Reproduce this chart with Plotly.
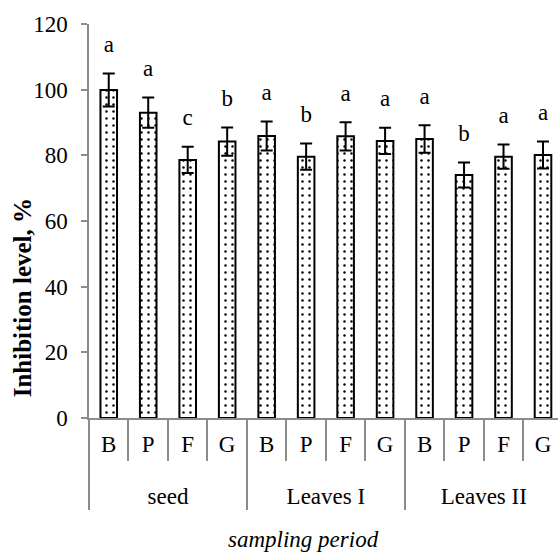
import plotly.graph_objects as go

group_names = ["seed", "Leaves I", "Leaves II"]
cat_names = ["B", "P", "F", "G"]
groups = [g for g in group_names for _ in cat_names]
cats = cat_names * 3
values = [99.9, 93.0, 78.6, 84.2, 85.9, 79.6, 85.8, 84.4, 85.0, 74.0, 79.6, 80.1]
errors = [5.0, 4.6, 4.0, 4.3, 4.4, 4.0, 4.3, 4.0, 4.2, 3.8, 3.7, 4.1]
letters = ["a", "a", "c", "b", "a", "b", "a", "a", "a", "b", "a", "a"]
y_ticks = [0, 20, 40, 60, 80, 100, 120]

FONT = "Liberation Serif"
GRAY = "#8c8c8c"
FS = 23
letter_gap = 8.3

# small blank line pushes the group level further down, as in the reference
group_labels = ["<span style='font-size:12px'> </span><br>" + g for g in groups]

fig = go.Figure()
fig.add_trace(go.Bar(
    x=[group_labels, cats], y=values,
    marker=dict(color="white", line=dict(color="black", width=2),
                pattern=dict(shape=".", size=7, solidity=0.1,
                             fgcolor="black", bgcolor="white", fillmode="replace")),
    error_y=dict(type="data", array=errors, visible=True, color="black",
                 thickness=2, width=6),
    width=0.42,
))
fig.add_trace(go.Scatter(
    x=[group_labels, cats], y=[v + e + letter_gap for v, e in zip(values, errors)],
    mode="text", text=letters, textposition="middle center",
    textfont=dict(family=FONT, size=FS, color="black"), hoverinfo="skip",
))

fig.update_layout(
    width=558, height=552, margin=dict(l=89, r=0, t=24, b=134),
    paper_bgcolor="white", plot_bgcolor="white", showlegend=False,
    font=dict(family=FONT, size=FS, color="black"),
)
fig.update_xaxes(
    type="multicategory", range=[-0.5, 11.38],
    showline=True, linecolor=GRAY, linewidth=1.5,
    ticks="outside", tickson="boundaries", ticklen=41, tickcolor=GRAY, tickwidth=1.5,
    showdividers=True, dividercolor=GRAY, dividerwidth=1.5,
    ticklabelstandoff=5,
    tickfont=dict(family=FONT, size=FS, color="black"),
    showgrid=False, zeroline=False,
)
fig.update_yaxes(
    range=[0, 120], tickvals=y_ticks, showline=True, linecolor=GRAY, linewidth=1.5,
    ticks="outside", ticklen=6, tickcolor=GRAY, tickwidth=1.5,
    ticklabelstandoff=9,
    tickfont=dict(family=FONT, size=FS, color="black"),
    showgrid=False, zeroline=False,
)
fig.add_annotation(text="<b>Inhibition level, %</b>", xref="paper", yref="paper",
                   x=-0.1418, y=0.305, xanchor="center", yanchor="middle", textangle=-90,
                   showarrow=False, font=dict(family=FONT, size=25, color="black"))
fig.add_annotation(text="<i>sampling period</i>", xref="paper", yref="paper",
                   x=0.458, y=-0.308, xanchor="center", yanchor="middle",
                   showarrow=False, font=dict(family=FONT, size=FS, color="black"))

fig.write_html("out.html")
